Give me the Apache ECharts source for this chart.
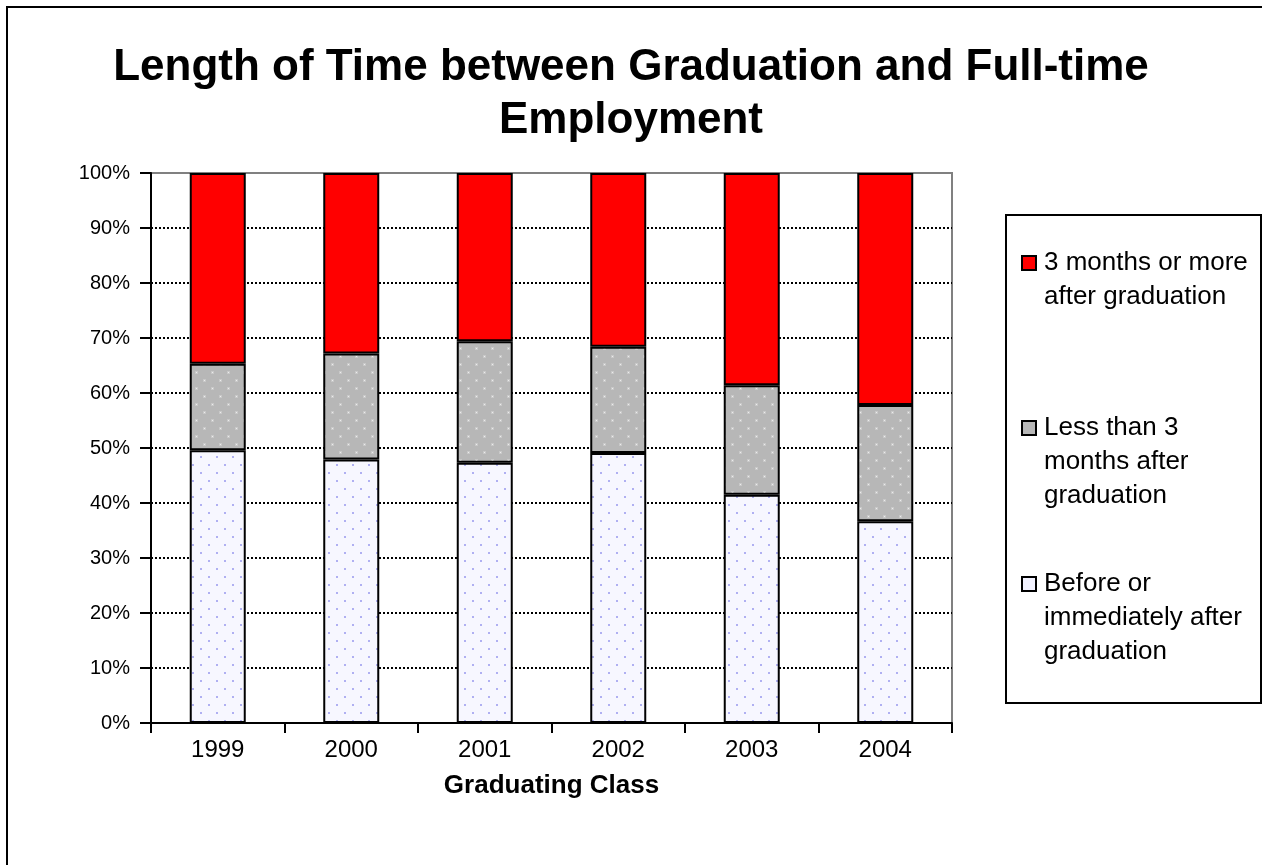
<!DOCTYPE html>
<html>
<head>
<meta charset="utf-8">
<script src="https://cdn.jsdelivr.net/npm/echarts@6/dist/echarts.min.js"></script>
<style>
html,body{margin:0;padding:0;background:#fff;}
#chart{width:1262px;height:865px;}
</style>
</head>
<body>
<div id="chart"></div>
<script>
const categories = ['1999','2000','2001','2002','2003','2004'];
const seriesNames = ['Before or immediately after graduation','Less than 3 months after graduation','3 months or more after graduation'];
const beforeOrImmediately = [49.6, 47.9, 47.3, 49.1, 41.5, 36.7];
const lessThan3Months = [15.7, 19.3, 22.1, 19.3, 19.9, 21.1];
const threeMonthsOrMore = [34.7, 32.8, 30.6, 31.6, 38.6, 42.2];
const yTickLabels = ['0%','10%','20%','30%','40%','50%','60%','70%','80%','90%','100%'];
const legendLines = [
  ['3 months or more','after graduation'],
  ['Less than 3','months after','graduation'],
  ['Before or','immediately after','graduation']
];

function makePattern(bg, dot, step) {
  const c = document.createElement('canvas');
  c.width = step * 2; c.height = step * 2;
  const g = c.getContext('2d');
  g.fillStyle = bg; g.fillRect(0, 0, c.width, c.height);
  g.fillStyle = dot;
  g.fillRect(0, 0, 2, 2);
  g.fillRect(step, step, 2, 2);
  return c;
}
function makeGray() {
  const c = document.createElement('canvas');
  c.width = 16; c.height = 16;
  const g = c.getContext('2d');
  g.fillStyle = '#b7b7b7'; g.fillRect(0, 0, 16, 16);
  g.fillStyle = '#c8c8c8';
  g.fillRect(3, 3, 3, 3); g.fillRect(11, 11, 3, 3);
  g.fillStyle = '#ececec';
  g.fillRect(4, 4, 1, 1); g.fillRect(12, 12, 1, 1);
  return c;
}
const whitePat = {image: makePattern('#f7f7ff', '#b0b0f2', 8), repeat: 'repeat'};
const grayPat = {image: makeGray(), repeat: 'repeat'};

const chart = echarts.init(document.getElementById('chart'), null, {renderer: 'canvas'});
const FONT = '"Liberation Sans", Arial, sans-serif';
const fills = [whitePat, grayPat, '#ff0000'];
const datas = [beforeOrImmediately, lessThan3Months, threeMonthsOrMore];

const series = datas.map((d, i) => ({
  name: seriesNames[i],
  type: 'bar',
  stack: 'total',
  data: d,
  barWidth: 56,
  itemStyle: {color: fills[i], borderColor: '#000', borderWidth: 2},
  emphasis: {disabled: true}
}));

const legendGraphics = [];
legendGraphics.push({type: 'rect', shape: {x: 1006, y: 215, width: 255, height: 488}, style: {fill: '#fff', stroke: '#000', lineWidth: 2}});
const legendFills = ['#ff0000', '#b7b7b7', '#f2f2ff'];
const legendTops = [263, 428, 584];
legendLines.forEach((lines, i) => {
  legendGraphics.push({type: 'rect', shape: {x: 1022, y: legendTops[i] - 7, width: 14, height: 14}, style: {fill: legendFills[i], stroke: '#000', lineWidth: 2}});
  legendGraphics.push({type: 'text', x: 1044, y: legendTops[i] - 17, style: {text: lines.join('\n'), font: '26px ' + FONT, fill: '#000', textVerticalAlign: 'top', lineHeight: 34}});
});

chart.setOption({
  animation: false,
  backgroundColor: '#fff',
  title: {
    text: 'Length of Time between Graduation and Full-time\nEmployment',
    left: 'center', top: 36,
    textStyle: {fontFamily: FONT, fontWeight: 'bold', fontSize: 44, lineHeight: 53, color: '#000'}
  },
  grid: {left: 151, right: 310, top: 173, bottom: 142, containLabel: false, show: true, borderColor: '#808080', borderWidth: 2},
  xAxis: {
    type: 'category', data: categories,
    name: 'Graduating Class', nameLocation: 'middle', nameGap: 50,
    nameTextStyle: {fontFamily: FONT, fontWeight: 'bold', fontSize: 26, color: '#000'},
    axisLine: {lineStyle: {color: '#000', width: 2}},
    axisTick: {show: true, length: 10, lineStyle: {color: '#000', width: 2}},
    axisLabel: {fontFamily: FONT, fontSize: 24, color: '#000', margin: 15}
  },
  yAxis: {
    type: 'value', min: 0, max: 100, interval: 10,
    axisLine: {show: true, lineStyle: {color: '#000', width: 2}},
    axisTick: {show: true, length: 11, lineStyle: {color: '#000', width: 2}},
    axisLabel: {fontFamily: FONT, fontSize: 20, color: '#000', margin: 21, formatter: v => yTickLabels[Math.round(v / 10)]},
    splitLine: {show: true, showMaxLine: false, lineStyle: {color: '#000', width: 2, type: [2, 2]}}
  },
  graphic: [
    {type: 'rect', shape: {x: 7, y: 7, width: 1300, height: 900}, style: {fill: 'none', stroke: '#000', lineWidth: 2}, silent: true},
    ...legendGraphics
  ],
  series: series
});
</script>
</body>
</html>
